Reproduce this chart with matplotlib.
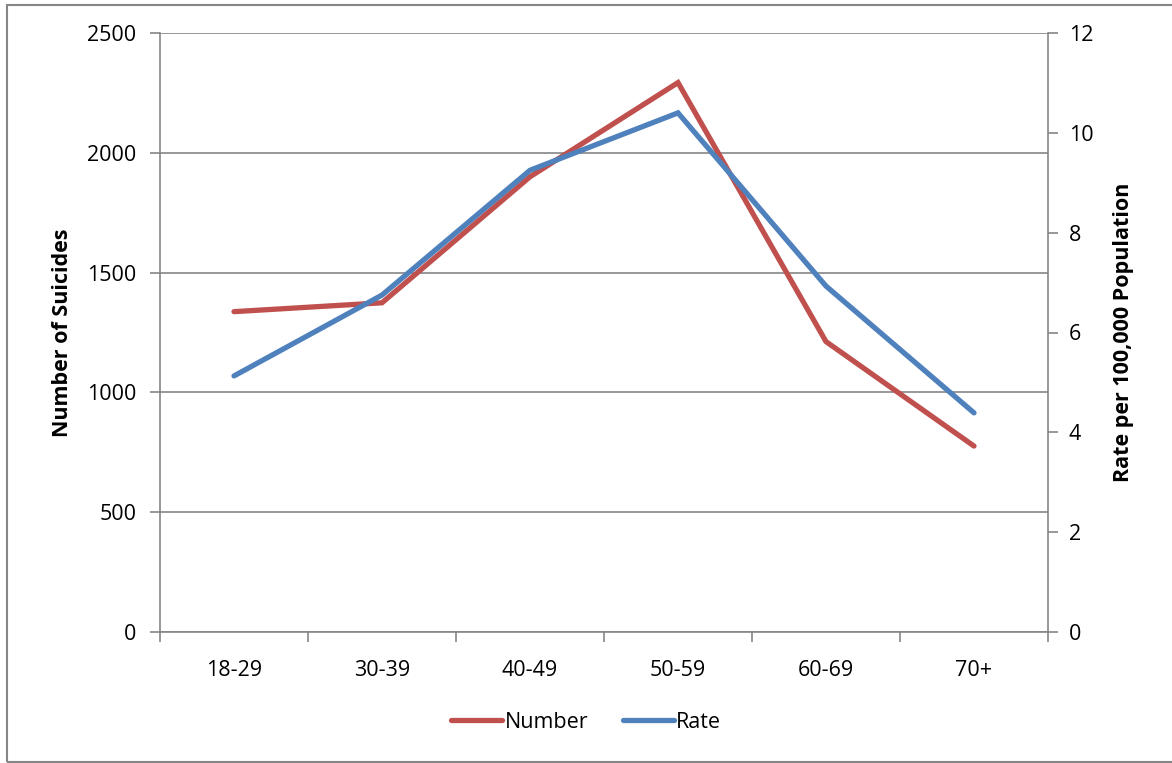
import matplotlib.pyplot as plt
from matplotlib.patches import Rectangle

# age groups and values
age_groups = ["18-29", "30-39", "40-49", "50-59", "60-69", "70+"]
suicides = [1337, 1374, 1900, 2293, 1212, 776]
rates = [5.13, 6.75, 9.25, 10.40, 6.93, 4.39]

RED = "#C0504D"
BLUE = "#4F81BD"
GRID = "#868686"
FONT = "Open Sans"
FS = 15.5

plt.rcParams["font.family"] = [FONT, "DejaVu Sans"]

fig = plt.figure(figsize=(11.72, 7.63), dpi=100)
ax = fig.add_axes([160 / 1172, 1 - 632 / 763, 888 / 1172, 599 / 763])
ax2 = ax.twinx()

x = list(range(len(age_groups)))
l1, = ax.plot(x, suicides, color=RED, lw=3.8, solid_capstyle="round",
              solid_joinstyle="miter", label="Number", zorder=3)
l2, = ax2.plot(x, rates, color=BLUE, lw=3.8, solid_capstyle="round",
               solid_joinstyle="miter", label="Rate", zorder=3)

ax.set_xlim(-0.5, len(age_groups) - 0.5)
ax.set_ylim(0, 2500)
ax2.set_ylim(0, 12)
ax.set_yticks(range(0, 2501, 500))
ax2.set_yticks(range(0, 13, 2))

# category labels centred, tick marks at boundaries
ax.set_xticks(x)
ax.set_xticklabels(age_groups)
ax.set_xticks([i - 0.5 for i in range(len(age_groups) + 1)], minor=True)
ax.tick_params(axis="x", which="major", length=0, pad=20, labelsize=FS)
ax.tick_params(axis="x", which="minor", length=7, width=1.2, color=GRID,
               direction="out")
ax.tick_params(axis="y", length=7, width=1.2, color=GRID, pad=10, labelsize=FS)
ax2.tick_params(axis="y", length=7, width=1.2, color=GRID, pad=8, labelsize=FS)

ax.yaxis.grid(True, color=GRID, lw=1.2)
ax.set_axisbelow(True)

for a in (ax, ax2):
    a.spines["top"].set_visible(False)
    for side in ("left", "right", "bottom"):
        a.spines[side].set_color(GRID)
        a.spines[side].set_linewidth(1.2)
ax.spines["right"].set_visible(False)
ax2.spines["left"].set_visible(False)
ax2.spines["bottom"].set_visible(False)

ax.set_ylabel("Number of Suicides", fontsize=FS, fontweight="bold", labelpad=10)
ax2.set_ylabel("Rate per 100,000 Population", fontsize=FS, fontweight="bold",
               labelpad=14)

fig.legend(handles=[l1, l2], loc="center", bbox_to_anchor=(0.5, 1 - 722 / 763),
           ncol=2, frameon=False, fontsize=FS, handlelength=2.4,
           handletextpad=0.1, columnspacing=1.6)

# outer chart border
fig.patches.append(Rectangle((7 / 1172, 1 / 763), 1.2, 757 / 763,
                             transform=fig.transFigure, fill=False,
                             edgecolor=GRID, lw=1.5))

fig.savefig("out.png", dpi=100)
